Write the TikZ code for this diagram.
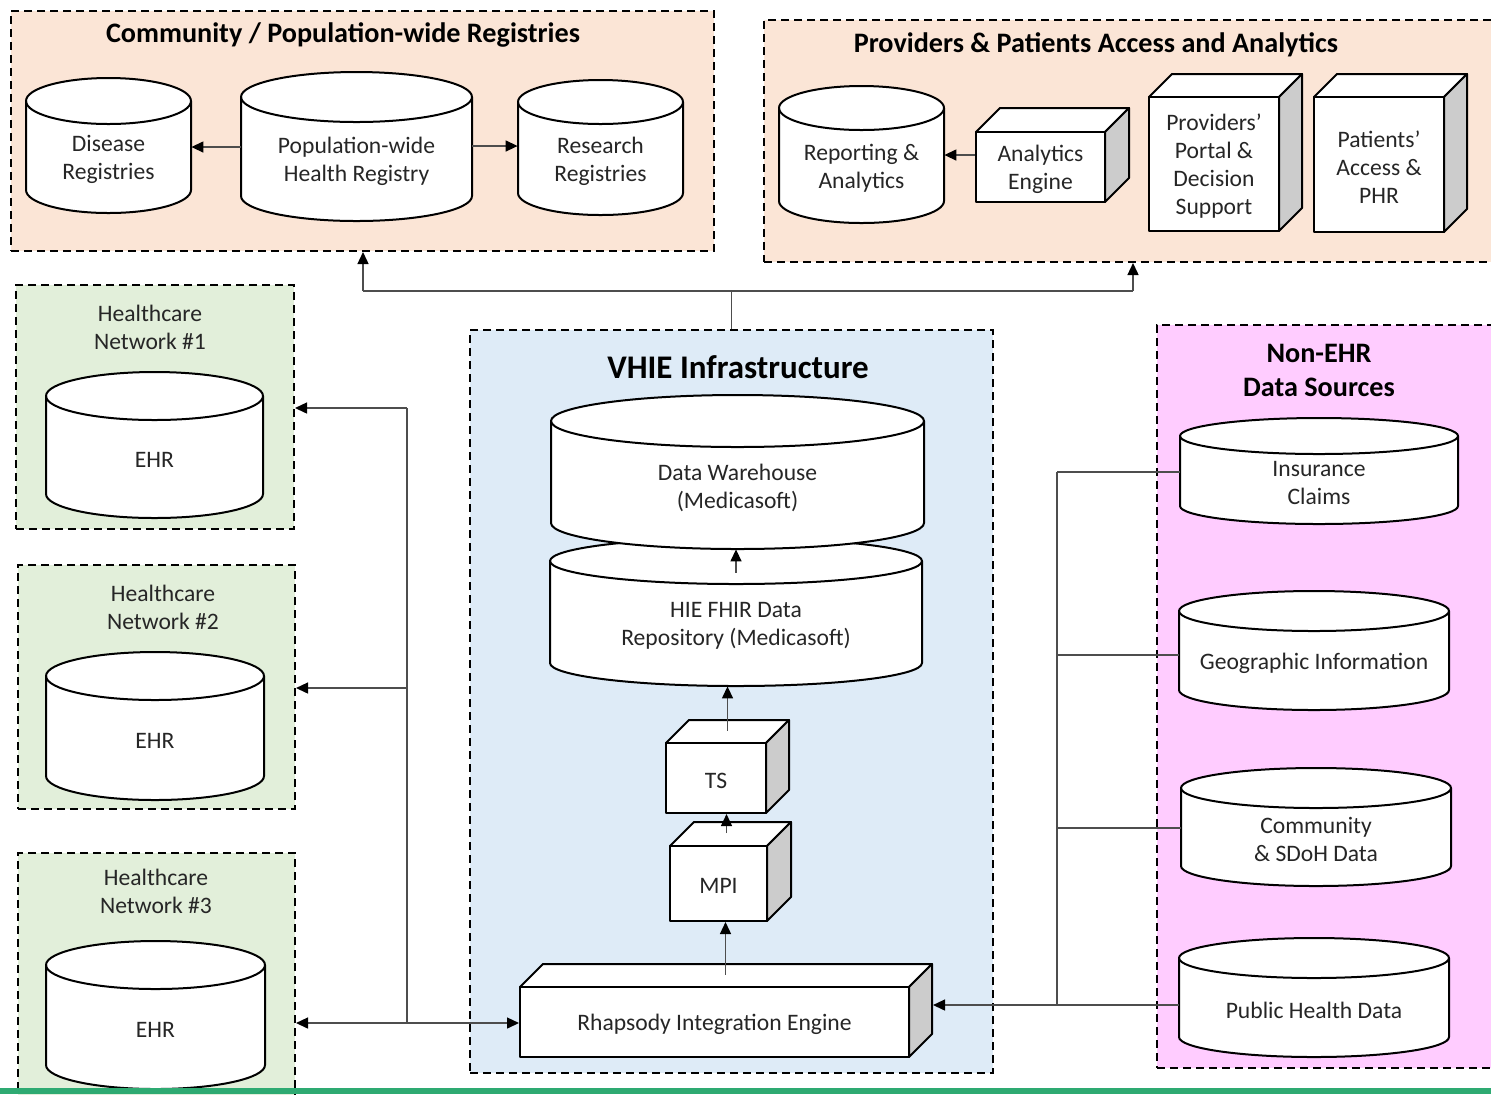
\documentclass[tikz,border=0pt]{standalone}
\usepackage{fontspec}
\setmainfont{Carlito}
\usetikzlibrary{arrows.meta,fit}
\definecolor{peach}{HTML}{FBE5D6}
\definecolor{netgreen}{HTML}{E2EFDA}
\definecolor{vhieblue}{HTML}{DEEBF7}
\definecolor{nonpink}{HTML}{FFCCFF}
\definecolor{sidegray}{HTML}{CCCCCC}
\definecolor{connc}{HTML}{4D4D4D}
\definecolor{txtc}{HTML}{262626}
\definecolor{barc}{HTML}{2EAA72}
% cylinder: name, x1, y1, x2, y2, ry, text
\newcommand{\dbcyl}[7]{%
  \pgfmathsetmacro{\rxpt}{(#4-#2)/4}%
  \pgfmathsetmacro{\rypt}{#6/2}%
  \filldraw[shapeline] (#2,#3+#6) -- (#2,#5-#6) arc[start angle=180,end angle=360,x radius=\rxpt pt,y radius=\rypt pt] -- (#4,#3+#6) arc[start angle=0,end angle=180,x radius=\rxpt pt,y radius=\rypt pt] -- cycle;
  \draw[shapeline,fill=none] (#2,#3+#6) arc[start angle=180,end angle=360,x radius=\rxpt pt,y radius=\rypt pt];
  \pgfmathsetmacro{\wpt}{(#4-#2)/2}%
  \pgfmathsetmacro{\hpt}{(#5-#3-#6)/2}%
  \node[lbl,minimum width=\wpt pt,minimum height=\hpt pt] (#1) at ({(#2+#4)/2},{(#3+#6+#5)/2}) {};
  \node[lbl] (#1-t) at ([yshift=-1.25pt]#1.center) {#7};
}
% cube: name, x1, y1, x2, y2, depth, text
\newcommand{\boxcube}[7]{%
  \filldraw[shapeline] (#2,#3) -- (#2+#6,#3-#6) -- (#4+#6,#3-#6) -- (#4,#3) -- cycle;
  \filldraw[shapeline,fill=sidegray] (#4,#3) -- (#4+#6,#3-#6) -- (#4+#6,#5-#6) -- (#4,#5) -- cycle;
  \pgfmathsetmacro{\wpt}{(#4-#2)/2}%
  \pgfmathsetmacro{\hpt}{(#5-#3)/2}%
  \node[lbl,shapeline,minimum width=\wpt pt,minimum height=\hpt pt] (#1) at ({(#2+#4)/2},{(#3+#5)/2}) {};
  \node[lbl] (#1-t) at ([yshift=-1.25pt]#1.center) {#7};
}
\begin{document}
\begin{tikzpicture}[x=0.5pt,y=-0.5pt,
  bgbox/.style={draw=black,line width=1pt,dash pattern=on 4pt off 2.5pt,inner sep=0pt},
  shapeline/.style={draw=black,line width=1pt,fill=white,line join=round},
  lbl/.style={align=center,font=\fontsize{11.8}{14}\selectfont,text=txtc,inner sep=0pt},
  ttl/.style={align=center,font=\fontsize{14.1}{17}\selectfont\bfseries,text=black,inner sep=0pt},
  conn/.style={draw=connc,line width=0.7pt},
  arr/.style={conn,-{Triangle[length=6pt,width=5.5pt,color=black]}}]
\useasboundingbox (0,0) rectangle (1491,1094);
\clip (0,0) rectangle (1491,1094);
\fill[white] (0,0) rectangle (1491,1094);

% group boxes
\node[bgbox,fill=peach,fit={(11,11)(714,251)}] (comm) {};
\node[bgbox,fill=peach,fit={(764,20)(1520,262)}] (prov) {};
\node[bgbox,fill=netgreen,fit={(16,285)(294,529)}] (net1) {};
\node[bgbox,fill=netgreen,fit={(18,565)(295,809)}] (net2) {};
\node[bgbox,fill=netgreen,fit={(18,853)(295,1110)}] (net3) {};
\node[bgbox,fill=vhieblue,fit={(470,330)(993,1073)}] (vhie) {};
\node[bgbox,fill=nonpink,fit={(1157,325)(1520,1068)}] (nonehr) {};

% titles
\node[ttl] (commT) at (343,35) {Community / Population-wide Registries};
\node[ttl] (provT) at (1096,45) {Providers \& Patients Access and Analytics};
\node[ttl,font=\fontsize{16.5}{19}\selectfont\bfseries] (vhieT) at (738,367) {VHIE Infrastructure};
\node[ttl] (nonT) at (1319,370) {Non-EHR\\Data Sources};
\node[lbl] (net1T) at (150,327) {Healthcare\\Network \#1};
\node[lbl] (net2T) at (163,607) {Healthcare\\Network \#2};
\node[lbl] (net3T) at (156,891) {Healthcare\\Network \#3};

% connector junctions
\coordinate (tl) at (363,291);
\coordinate (tr) at (1133,291);
\coordinate (j1) at (407,408);
\coordinate (j2) at (407,688);
\coordinate (j3) at (407,1023);
\coordinate (r1) at (1057,472);
\coordinate (r2) at (1057,655);
\coordinate (r3) at (1057,828);
\coordinate (r4) at (1057,1005);

% top row
\dbcyl{dis}{26}{78}{191}{213}{23}{Disease\\Registries}
\dbcyl{pop}{241}{72}{472}{221}{25}{Population-wide\\Health Registry}
\dbcyl{res}{518}{80}{683}{215}{22}{Research\\Registries}
\dbcyl{rep}{779}{86}{944}{223}{22}{Reporting \&\\Analytics}
\boxcube{ae}{976}{132}{1105}{202}{24}{Analytics\\Engine}
\boxcube{ppd}{1149}{97}{1279}{231}{23}{Providers’\\Portal \&\\Decision\\Support}
\boxcube{pat}{1314}{97}{1444}{232}{23}{Patients’\\Access \&\\PHR}

% healthcare networks
\dbcyl{ehr1}{46}{372}{263}{518}{24}{EHR}
\dbcyl{ehr2}{46}{652}{264}{800}{24}{EHR}
\dbcyl{ehr3}{46}{941}{265}{1089}{24}{EHR}

% VHIE
\dbcyl{fhir}{550}{538}{922}{686}{23}{HIE FHIR Data\\Repository (Medicasoft)}
\dbcyl{dw}{551}{395}{924}{549}{26}{Data Warehouse\\(Medicasoft)}
\boxcube{ts}{666}{743}{766}{813}{23}{TS}
\boxcube{mpi}{670}{846}{767}{921}{24}{MPI}
\boxcube{rh}{520}{987}{909}{1057}{23}{Rhapsody Integration Engine}

% non-EHR
\dbcyl{ins}{1180}{418}{1458}{524}{18}{Insurance\\Claims}
\dbcyl{geo}{1179}{591}{1449}{710}{20}{Geographic Information}
\dbcyl{sdoh}{1181}{768}{1451}{886}{20}{Community\\\& SDoH Data}
\dbcyl{pub}{1179}{938}{1449}{1057}{20}{Public Health Data}

% top connectors
\draw[conn] (tl) -- (tr);
\draw[conn] (vhie.north) -- (vhie.north |- tl);
\draw[arr] (tl) -- (tl |- comm.south);
\draw[arr] (tr) -- (tr |- prov.south);

% arrows inside top boxes
\coordinate (pw) at ([yshift=6pt]pop.west);
\coordinate (pe) at ([yshift=6.5pt]pop.east);
\coordinate (aw) at ([yshift=6pt]ae.west);
\draw[arr] (pw) -- (pw -| dis.east);
\draw[arr] (pe) -- (pe -| res.west);
\draw[arr] (aw) -- (aw -| rep.east);

% left connectors
\draw[conn] (j1) -- (j3);
\draw[arr] (j1) -- (j1 -| net1.east);
\draw[arr] (j2) -- (j2 -| net2.east);
\draw[arr] (j3) -- (j3 -| net3.east);
\draw[arr] (j3) -- (j3 -| rh.west);

% right connectors
\coordinate (rhS) at ([xshift=11.5pt]rh.east);
\draw[conn] (r1) -- (r4);
\draw[conn] (r1) -- (r1 -| ins.west);
\draw[conn] (r2) -- (r2 -| geo.west);
\draw[conn] (r3) -- (r3 -| sdoh.west);
\draw[conn] (r4) -- (r4 -| pub.west);
\draw[arr] (r4) -- (r4 -| rhS);

% VHIE internal arrows
\coordinate (fT) at ([yshift=-6pt]fhir.north);
\coordinate (tsT) at ([xshift=5.75pt,yshift=5.75pt]ts.north);
\coordinate (mpiT) at ([xshift=4pt,yshift=6pt]mpi.north);
\coordinate (rhT) at ([xshift=5.5pt,yshift=5.75pt]rh.north);
\draw[arr] (fT) -- (fT |- dw.south);
\draw[arr] (tsT) -- (tsT |- fhir.south);
\draw[arr] (mpiT) -- (mpiT |- ts.south);
\draw[arr] (rhT) -- (rhT |- mpi.south);

% bottom bar
\fill[barc] (0,1088) rectangle (1491,1094);
\end{tikzpicture}
\end{document}
